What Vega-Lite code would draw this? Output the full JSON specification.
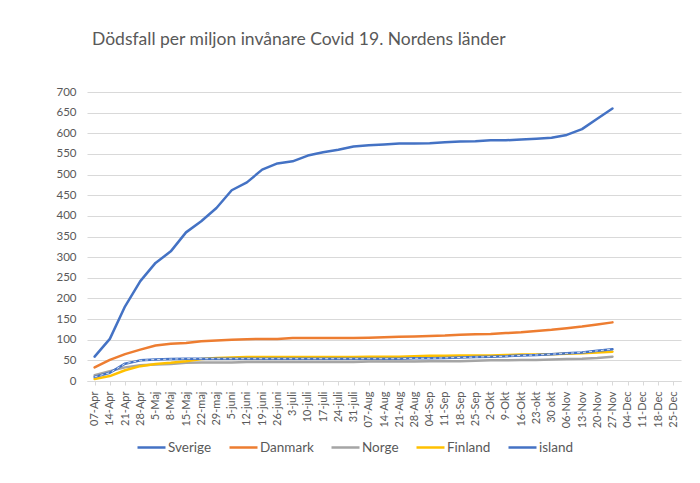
{
  "$schema": "https://vega.github.io/schema/vega-lite/v6.json",
  "width": 594,
  "height": 289,
  "autosize": {"type": "none"},
  "padding": {"left": 87, "top": 92, "right": 19, "bottom": 102},
  "background": "white",
  "title": {
    "text": "Dödsfall per miljon invånare Covid 19. Nordens länder",
    "anchor": "start",
    "frame": "group",
    "dx": 5,
    "offset": 38,
    "font": "Lato",
    "fontSize": 17.5,
    "fontWeight": "normal",
    "color": "#595959"
  },
  "data": {
    "values": [
      {"i": 0, "date": "07-Apr", "Sverige": 59, "Danmark": 33, "Norge": 14, "Finland": 5, "island": 10},
      {"i": 1, "date": "14-Apr", "Sverige": 102, "Danmark": 51, "Norge": 24, "Finland": 12, "island": 20},
      {"i": 2, "date": "21-Apr", "Sverige": 181, "Danmark": 65, "Norge": 33, "Finland": 26, "island": 42},
      {"i": 3, "date": "28-Apr", "Sverige": 242, "Danmark": 76, "Norge": 38, "Finland": 36, "island": 50},
      {"i": 4, "date": "5-Maj", "Sverige": 286, "Danmark": 86, "Norge": 40, "Finland": 41, "island": 52},
      {"i": 5, "date": "8-Maj", "Sverige": 314, "Danmark": 90, "Norge": 41, "Finland": 44, "island": 53},
      {"i": 6, "date": "15-Maj", "Sverige": 360, "Danmark": 92, "Norge": 44, "Finland": 48, "island": 54},
      {"i": 7, "date": "22-maj", "Sverige": 387, "Danmark": 96, "Norge": 45, "Finland": 53, "island": 54},
      {"i": 8, "date": "29-maj", "Sverige": 419, "Danmark": 98, "Norge": 45, "Finland": 56, "island": 54},
      {"i": 9, "date": "5-juni", "Sverige": 462, "Danmark": 100, "Norge": 45, "Finland": 57, "island": 54},
      {"i": 10, "date": "12-juni", "Sverige": 481, "Danmark": 101, "Norge": 46, "Finland": 58, "island": 54},
      {"i": 11, "date": "19-juni", "Sverige": 512, "Danmark": 102, "Norge": 46, "Finland": 58, "island": 54},
      {"i": 12, "date": "26-juni", "Sverige": 527, "Danmark": 102, "Norge": 46, "Finland": 58, "island": 54},
      {"i": 13, "date": "3-juli", "Sverige": 532, "Danmark": 104, "Norge": 46, "Finland": 58, "island": 54},
      {"i": 14, "date": "10-juli", "Sverige": 546, "Danmark": 104, "Norge": 46, "Finland": 58, "island": 54},
      {"i": 15, "date": "17-juli", "Sverige": 554, "Danmark": 104, "Norge": 46, "Finland": 58, "island": 54},
      {"i": 16, "date": "24-juli", "Sverige": 560, "Danmark": 104, "Norge": 46, "Finland": 58, "island": 54},
      {"i": 17, "date": "31-juli", "Sverige": 568, "Danmark": 104, "Norge": 46, "Finland": 58, "island": 54},
      {"i": 18, "date": "07-Aug", "Sverige": 571, "Danmark": 105, "Norge": 47, "Finland": 59, "island": 54},
      {"i": 19, "date": "14-Aug", "Sverige": 573, "Danmark": 106, "Norge": 47, "Finland": 59, "island": 54},
      {"i": 20, "date": "21-Aug", "Sverige": 575, "Danmark": 107, "Norge": 47, "Finland": 59, "island": 54},
      {"i": 21, "date": "28-Aug", "Sverige": 575, "Danmark": 108, "Norge": 47, "Finland": 60, "island": 55},
      {"i": 22, "date": "04-Sep", "Sverige": 576, "Danmark": 109, "Norge": 48, "Finland": 61, "island": 55},
      {"i": 23, "date": "11-Sep", "Sverige": 578, "Danmark": 110, "Norge": 48, "Finland": 61, "island": 56},
      {"i": 24, "date": "18-Sep", "Sverige": 580, "Danmark": 112, "Norge": 48, "Finland": 62, "island": 57},
      {"i": 25, "date": "25-Sep", "Sverige": 581, "Danmark": 113, "Norge": 49, "Finland": 62, "island": 58},
      {"i": 26, "date": "2-Okt", "Sverige": 583, "Danmark": 114, "Norge": 50, "Finland": 62, "island": 59},
      {"i": 27, "date": "9-Okt", "Sverige": 583, "Danmark": 116, "Norge": 50, "Finland": 63, "island": 60},
      {"i": 28, "date": "16-Okt", "Sverige": 585, "Danmark": 118, "Norge": 51, "Finland": 64, "island": 62},
      {"i": 29, "date": "23-okt", "Sverige": 587, "Danmark": 121, "Norge": 51, "Finland": 64, "island": 63},
      {"i": 30, "date": "30 okt", "Sverige": 589, "Danmark": 124, "Norge": 52, "Finland": 65, "island": 65},
      {"i": 31, "date": "06-Nov", "Sverige": 596, "Danmark": 128, "Norge": 53, "Finland": 66, "island": 67},
      {"i": 32, "date": "13-Nov", "Sverige": 610, "Danmark": 132, "Norge": 54, "Finland": 67, "island": 69},
      {"i": 33, "date": "20-Nov", "Sverige": 635, "Danmark": 137, "Norge": 56, "Finland": 69, "island": 73},
      {"i": 34, "date": "27-Nov", "Sverige": 660, "Danmark": 142, "Norge": 59, "Finland": 71, "island": 77}
    ]
  },
  "transform": [
    {"fold": ["Sverige", "Danmark", "Norge", "Finland", "island"], "as": ["country", "value"]}
  ],
  "encoding": {
    "x": {
      "field": "date",
      "type": "ordinal",
      "scale": {
        "type": "point",
        "padding": 0.5,
        "domain": ["07-Apr","14-Apr","21-Apr","28-Apr","5-Maj","8-Maj","15-Maj","22-maj","29-maj","5-juni","12-juni","19-juni","26-juni","3-juli","10-juli","17-juli","24-juli","31-juli","07-Aug","14-Aug","21-Aug","28-Aug","04-Sep","11-Sep","18-Sep","25-Sep","2-Okt","9-Okt","16-Okt","23-okt","30 okt","06-Nov","13-Nov","20-Nov","27-Nov","04-Dec","11-Dec","18-Dec","25-Dec"]
      },
      "axis": {
        "title": null,
        "labelAngle": -90,
        "labelFont": "Lato",
        "labelFontSize": 11,
        "labelColor": "#595959",
        "labelPadding": 6,
        "domainColor": "#d9d9d9",
        "tickColor": "#d9d9d9",
        "tickSize": 4,
        "grid": false
      }
    },
    "y": {
      "field": "value",
      "type": "quantitative",
      "scale": {"domain": [0, 700], "nice": false},
      "axis": {
        "title": null,
        "values": [0,50,100,150,200,250,300,350,400,450,500,550,600,650,700],
        "labelFont": "Lato",
        "labelFontSize": 11.5,
        "labelColor": "#595959",
        "labelPadding": 11,
        "domain": false,
        "ticks": false,
        "gridColor": "#d9d9d9",
        "gridWidth": 1
      }
    },
    "order": {"field": "i", "type": "quantitative"}
  },
  "layer": [
    {
      "mark": {"type": "line", "strokeWidth": 2.5, "strokeCap": "round", "strokeJoin": "round"},
      "encoding": {
        "color": {
          "field": "country",
          "type": "nominal",
          "sort": ["Sverige", "Danmark", "Norge", "Finland", "island"],
          "scale": {
            "domain": ["Sverige", "Danmark", "Norge", "Finland", "island"],
            "range": ["#4472C4", "#ED7D31", "#A5A5A5", "#FFC000", "#4472C4"]
          },
          "legend": {
            "title": null,
            "orient": "none",
            "legendX": 49,
            "legendY": 340,
            "direction": "horizontal",
            "symbolType": "stroke",
            "symbolSize": 784,
            "symbolStrokeWidth": 2.5,
            "labelFont": "Lato",
            "labelFontSize": 13.5,
            "labelColor": "#595959",
            "columnPadding": 12,
            "labelOffset": 1
          }
        }
      }
    },
    {
      "transform": [{"filter": "datum.country === 'island'"}],
      "mark": {"type": "line", "strokeWidth": 0.8, "color": "white", "strokeDash": [3, 3]},
      "encoding": {}
    }
  ],
  "config": {
    "view": {"stroke": null},
    "font": "Lato"
  }
}
